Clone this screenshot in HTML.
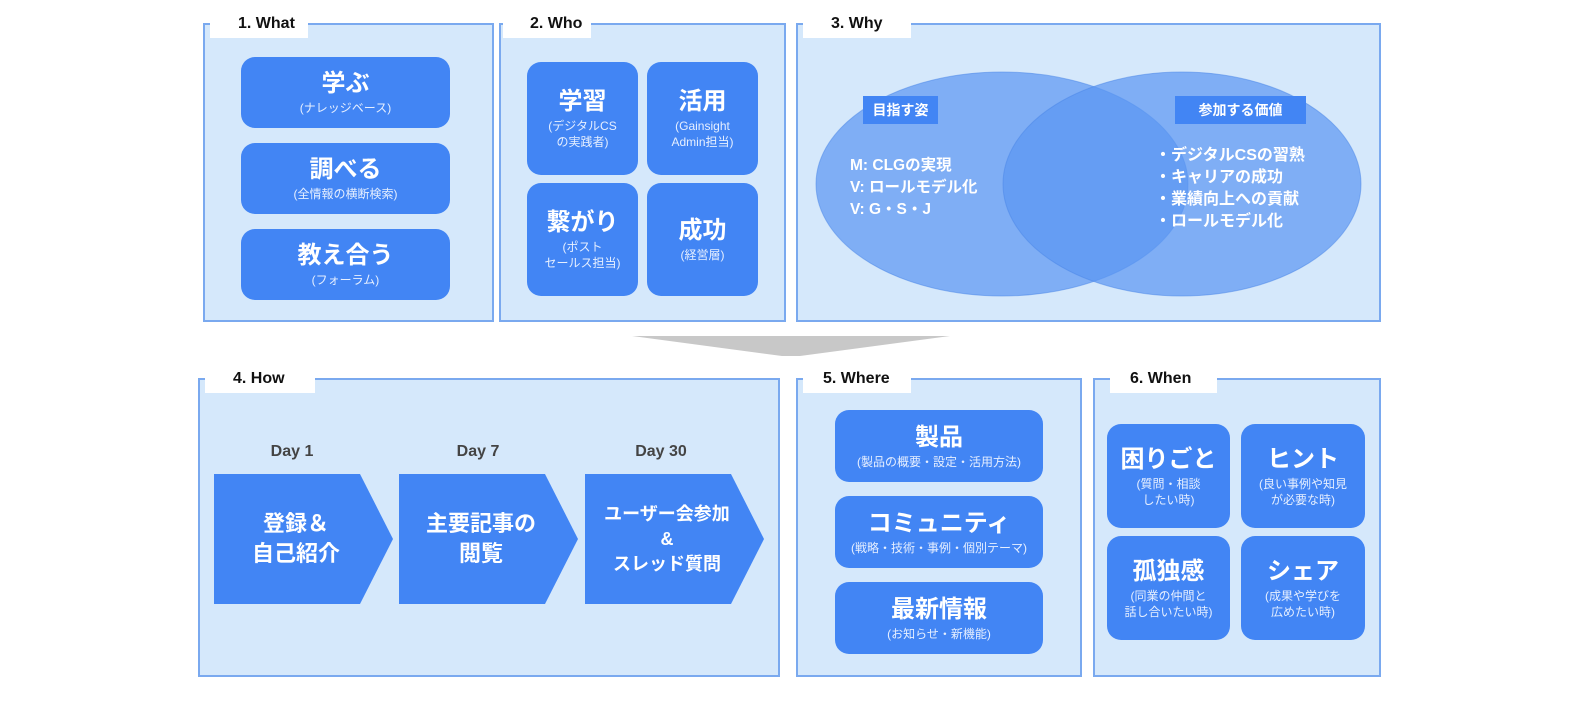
<!DOCTYPE html>
<html><head><meta charset="utf-8"><style>
body{margin:0;width:1583px;height:704px;background:#fff;position:relative;overflow:hidden;font-family:"Liberation Sans","Noto Sans CJK JP",sans-serif}
.p{position:absolute;background:#d5e8fb;border:2px solid #7aa9ef;box-sizing:border-box}
.t{position:absolute;background:#fff;font-weight:bold;font-size:16px;color:#111;padding-left:28px;box-sizing:border-box;line-height:26px}
.b{position:absolute;background:#4285f4;border-radius:14px;color:#fff;display:flex;flex-direction:column;align-items:center;justify-content:center;text-align:center}
.b .h{font-size:24px;font-weight:bold;line-height:30px}
.b .s{font-size:12px;line-height:16px;color:#e6efff;margin-top:1px}
.a{position:absolute;color:#fff;text-align:center;font-weight:bold;font-size:22px;line-height:30px;display:flex;flex-direction:column;justify-content:center}
.d{position:absolute;font-weight:bold;font-size:16px;color:#444;text-align:center;width:100px}
</style></head><body>
<div class="p" style="left:203px;top:23px;width:291px;height:299px"></div>
<div class="t" style="left:210px;top:11px;width:98px;height:27px">1. What</div>
<div class="p" style="left:499px;top:23px;width:287px;height:299px"></div>
<div class="t" style="left:503px;top:11px;width:88px;height:27px;padding-left:27px">2. Who</div>
<div class="p" style="left:796px;top:23px;width:585px;height:299px"></div>
<div class="t" style="left:803px;top:11px;width:108px;height:27px">3. Why</div>
<div class="p" style="left:198px;top:378px;width:582px;height:299px"></div>
<div class="t" style="left:205px;top:366px;width:110px;height:27px">4. How</div>
<div class="p" style="left:796px;top:378px;width:286px;height:299px"></div>
<div class="t" style="left:803px;top:366px;width:108px;height:27px;padding-left:20px">5. Where</div>
<div class="p" style="left:1093px;top:378px;width:288px;height:299px"></div>
<div class="t" style="left:1110px;top:366px;width:107px;height:27px;padding-left:20px">6. When</div>

<div class="b" style="left:241px;top:57px;width:209px;height:71px"><div class="h">学ぶ</div><div class="s">(ナレッジベース)</div></div>
<div class="b" style="left:241px;top:143px;width:209px;height:71px"><div class="h">調べる</div><div class="s">(全情報の横断検索)</div></div>
<div class="b" style="left:241px;top:229px;width:209px;height:71px"><div class="h">教え合う</div><div class="s">(フォーラム)</div></div>

<div class="b" style="left:527px;top:62px;width:111px;height:113px"><div class="h">学習</div><div class="s">(デジタルCS<br>の実践者)</div></div>
<div class="b" style="left:647px;top:62px;width:111px;height:113px"><div class="h">活用</div><div class="s">(Gainsight<br>Admin担当)</div></div>
<div class="b" style="left:527px;top:183px;width:111px;height:113px"><div class="h">繋がり</div><div class="s">(ポスト<br>セールス担当)</div></div>
<div class="b" style="left:647px;top:183px;width:111px;height:113px"><div class="h">成功</div><div class="s">(経営層)</div></div>

<svg style="position:absolute;left:0;top:0" width="1583" height="704">
<ellipse cx="1002" cy="184" rx="186" ry="112" fill="#5a95f2" fill-opacity="0.7" stroke="#4a86e8" stroke-opacity="0.5"/>
<ellipse cx="1182" cy="184" rx="179" ry="112" fill="#5a95f2" fill-opacity="0.7" stroke="#4a86e8" stroke-opacity="0.5"/>
<rect x="863" y="96" width="75" height="28" fill="#4285f4"/>
<rect x="1175" y="96" width="131" height="28" fill="#4285f4"/>
<polygon points="632,336 950,336 800,356 782,356" fill="#c8c8c8"/>
<polygon points="214,474 360,474 393,539 360,604 214,604" fill="#4285f4"/>
<polygon points="399,474 545,474 578,539 545,604 399,604" fill="#4285f4"/>
<polygon points="585,474 731,474 764,539 731,604 585,604" fill="#4285f4"/>
</svg>
<div style="position:absolute;left:863px;top:96px;width:75px;height:28px;line-height:28px;text-align:center;color:#fff;font-weight:bold;font-size:14px">目指す姿</div>
<div style="position:absolute;left:1175px;top:96px;width:131px;height:28px;line-height:28px;text-align:center;color:#fff;font-weight:bold;font-size:14px">参加する価値</div>
<div style="position:absolute;left:850px;top:155px;color:#fff;font-weight:bold;font-size:15.5px;line-height:22px">M: CLGの実現<br>V: ロールモデル化<br>V: G・S・J</div>
<div style="position:absolute;left:1155px;top:145px;color:#fff;font-weight:bold;font-size:16px;line-height:22px">・デジタルCSの習熟<br>・キャリアの成功<br>・業績向上への貢献<br>・ロールモデル化</div>

<div class="d" style="left:242px;top:443px">Day 1</div>
<div class="d" style="left:428px;top:443px">Day 7</div>
<div class="d" style="left:611px;top:443px">Day 30</div>
<div class="a" style="left:214px;top:474px;width:164px;height:130px">登録＆<br>自己紹介</div>
<div class="a" style="left:399px;top:474px;width:164px;height:130px">主要記事の<br>閲覧</div>
<div class="a" style="left:585px;top:474px;width:164px;height:130px;font-size:18px;line-height:25px">ユーザー会参加<br>&amp;<br>スレッド質問</div>

<div class="b" style="left:835px;top:410px;width:208px;height:72px"><div class="h">製品</div><div class="s">(製品の概要・設定・活用方法)</div></div>
<div class="b" style="left:835px;top:496px;width:208px;height:72px"><div class="h">コミュニティ</div><div class="s">(戦略・技術・事例・個別テーマ)</div></div>
<div class="b" style="left:835px;top:582px;width:208px;height:72px"><div class="h">最新情報</div><div class="s">(お知らせ・新機能)</div></div>

<div class="b" style="left:1107px;top:424px;width:123px;height:104px"><div class="h">困りごと</div><div class="s">(質問・相談<br>したい時)</div></div>
<div class="b" style="left:1241px;top:424px;width:124px;height:104px"><div class="h">ヒント</div><div class="s">(良い事例や知見<br>が必要な時)</div></div>
<div class="b" style="left:1107px;top:536px;width:123px;height:104px"><div class="h">孤独感</div><div class="s">(同業の仲間と<br>話し合いたい時)</div></div>
<div class="b" style="left:1241px;top:536px;width:124px;height:104px"><div class="h">シェア</div><div class="s">(成果や学びを<br>広めたい時)</div></div>
</body></html>
